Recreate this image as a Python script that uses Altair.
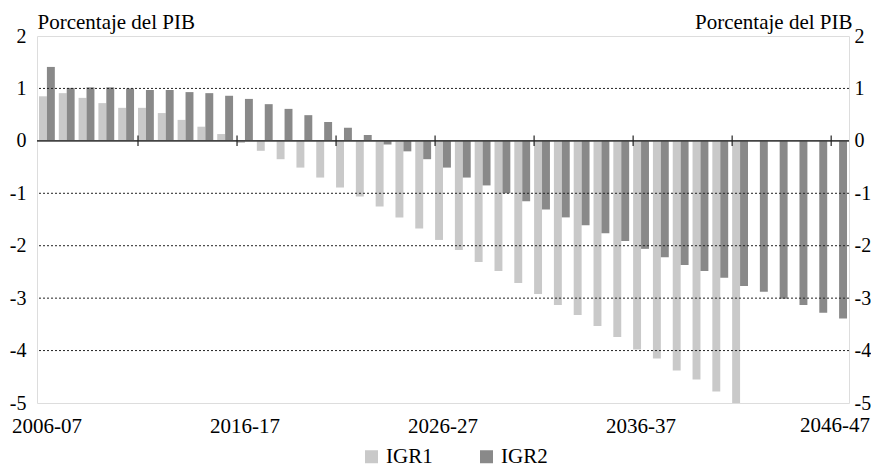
import altair as alt
import pandas as pd

years = [f"{y}-{(y + 1) % 100:02d}" for y in range(2006, 2047)]

igr1 = [0.85, 0.91, 0.82, 0.72, 0.63, 0.63, 0.53, 0.40, 0.27, 0.13,
        -0.04, -0.19, -0.35, -0.51, -0.70, -0.89, -1.06, -1.25, -1.46, -1.67,
        -1.89, -2.08, -2.31, -2.48, -2.71, -2.92, -3.13, -3.32, -3.53, -3.74,
        -3.98, -4.15, -4.38, -4.55, -4.78, -5.00, None, None, None, None, None]

igr2 = [1.41, 1.01, 1.02, 1.02, 1.00, 0.97, 0.97, 0.93, 0.91, 0.86,
        0.80, 0.70, 0.61, 0.49, 0.36, 0.25, 0.11, -0.07, -0.20, -0.35,
        -0.51, -0.70, -0.85, -1.00, -1.15, -1.31, -1.46, -1.61, -1.76, -1.91,
        -2.06, -2.22, -2.37, -2.48, -2.61, -2.77, -2.88, -3.01, -3.13, -3.28, -3.39]

series_names = ["IGR1", "IGR2"]
series_colors = ["#c9c9c9", "#898989"]
label_years = ["2006-07", "2016-17", "2026-27", "2036-37"]
last_label = ["2046-47"]
tick_years = years[5::5]
y_ticks = [2, 1, 0, -1, -2, -3, -4, -5]
grid_vals = [1, -1, -2, -3, -4]
y_title = "Porcentaje del PIB"

rows = []
for yr, a, b in zip(years, igr1, igr2):
    if a is not None:
        rows.append({"year": yr, "series": "IGR1", "value": a})
    if b is not None:
        rows.append({"year": yr, "series": "IGR2", "value": b})
df = pd.DataFrame(rows)

FONT = "Liberation Serif"
FS = 21
W, H = 812, 367
ydom = alt.Scale(domain=[-5, 2], nice=False, zero=False)
xscale = alt.Scale(paddingInner=0.2, paddingOuter=0.1)

x_axis = alt.Axis(values=label_years, labelAngle=0, ticks=False, domain=False,
                  grid=False, labelPadding=12, labelFontSize=FS, title=None)

left_axis = alt.Axis(values=y_ticks, ticks=False, domain=False, grid=False,
                     labelExpr="datum.value + ''", labelPadding=11, labelFontSize=20,
                     title=y_title, titleAngle=0, titleAlign="left",
                     titleBaseline="alphabetic", titleX=0, titleY=-8)

right_axis = alt.Axis(orient="right", values=y_ticks, ticks=False, domain=False,
                      grid=False, labelExpr="datum.value + ''", labelPadding=5,
                      labelFontSize=20,
                      title=y_title, titleAngle=0, titleAlign="right",
                      titleBaseline="alphabetic", titleX=3, titleY=-8)

bars = alt.Chart(df).mark_bar(clip=True).encode(
    x=alt.X("year:N", sort=years, title=None, scale=xscale, axis=x_axis),
    xOffset=alt.XOffset("series:N", sort=series_names),
    y=alt.Y("value:Q", scale=ydom, axis=left_axis, title=y_title),
    color=alt.Color("series:N", sort=series_names,
                    scale=alt.Scale(domain=series_names, range=series_colors),
                    legend=alt.Legend(orient="none", legendX=324, legendY=410,
                                      direction="horizontal", title=None,
                                      symbolType="square", symbolSize=169,
                                      symbolStrokeWidth=0,
                                      labelOffset=4, columnPadding=43)),
)

grid = alt.Chart(pd.DataFrame({"value": grid_vals})).mark_rule(
    color="#222", strokeWidth=1, strokeDash=[2, 2]
).encode(y=alt.Y("value:Q", scale=ydom, axis=left_axis, title=y_title))

zero = alt.Chart(pd.DataFrame({"value": [0]})).mark_rule(
    color="#444", strokeWidth=1.6
).encode(y=alt.Y("value:Q", scale=ydom, axis=left_axis, title=y_title))

ticks = alt.Chart(pd.DataFrame({"year": tick_years})).mark_rule(
    color="#222", strokeWidth=1.2
).encode(
    x=alt.X("year:N", sort=years, bandPosition=0, title=None, scale=xscale, axis=x_axis),
    y=alt.datum(-0.1),
    y2=alt.datum(0.1),
)

last_text = alt.Chart(pd.DataFrame({"year": last_label})).mark_text(
    align="right", baseline="top", font=FONT, fontSize=FS, color="black", dx=31
).encode(
    x=alt.X("year:N", sort=years, title=None, scale=xscale, axis=x_axis),
    y=alt.value(H + 12),
    text="year:N",
)

inner = alt.layer(bars, grid, zero, ticks, last_text)

right = alt.Chart(pd.DataFrame({"v": y_ticks})).mark_point(opacity=0).encode(
    y=alt.Y("v:Q", scale=ydom, axis=right_axis, title=y_title)
)

chart = alt.layer(inner, right).resolve_scale(y="independent").properties(
    width=W, height=H,
    autosize=alt.AutoSizeParams(type="none"),
    padding={"left": 29, "top": 28, "right": 22, "bottom": 66},
).configure_view(stroke="#222", strokeWidth=1.2).configure(
    background="white", font=FONT
).configure_axis(
    labelFont=FONT, labelColor="black",
    titleFont=FONT, titleFontSize=FS, titleFontWeight="normal", titleColor="black"
).configure_legend(
    labelFont=FONT, labelFontSize=FS, labelColor="black"
)

chart.save("out.html", embed_options={"renderer": "svg", "actions": False})
